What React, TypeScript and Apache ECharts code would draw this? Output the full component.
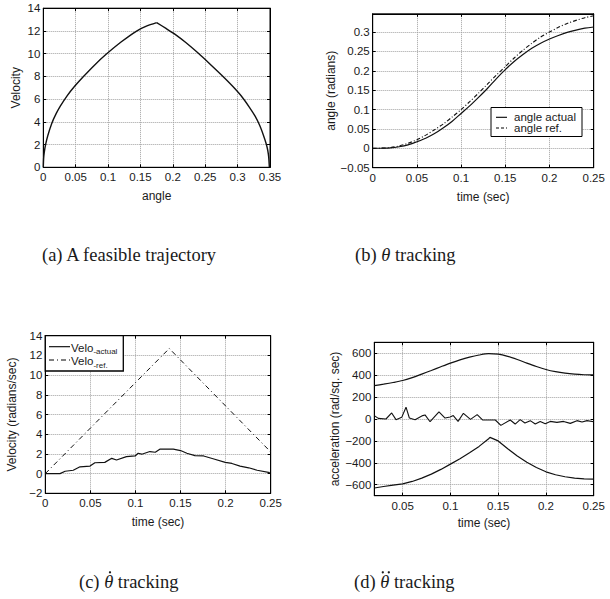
import React, { useEffect, useRef } from 'react';
import * as echarts from 'echarts';

// (a) A feasible trajectory: velocity vs angle (peak at the maximum velocity)
const aAngle = [0, 0.0005, 0.0015, 0.0036, 0.007, 0.0129, 0.02, 0.0265, 0.037, 0.049, 0.062, 0.079, 0.097, 0.12, 0.144, 0.16, 0.175, 0.19, 0.203, 0.22, 0.239, 0.258, 0.2755, 0.292, 0.306, 0.318, 0.327, 0.334, 0.3397, 0.344, 0.3465, 0.348, 0.349];
const aVelocity = [0, 0.76, 1.32, 2.01, 2.8, 3.84, 4.74, 5.4, 6.31, 7.17, 7.99, 8.99, 9.94, 11.02, 11.99, 12.44, 12.73, 12.2, 11.72, 10.98, 10.05, 9.05, 8.1, 7.15, 6.25, 5.3, 4.5, 3.7, 2.85, 2.1, 1.5, 0.9, 0];

// (b) theta tracking
const bTime = [0, 0.01, 0.02, 0.03, 0.04, 0.05, 0.06, 0.07, 0.08, 0.09, 0.1, 0.11, 0.12, 0.13, 0.14, 0.15, 0.16, 0.17, 0.18, 0.19, 0.2, 0.21, 0.22, 0.23, 0.24, 0.25];
const bActual = [0, 0.0003, 0.001, 0.004, 0.009, 0.017, 0.026, 0.038, 0.053, 0.07, 0.09, 0.11, 0.132, 0.155, 0.18, 0.203, 0.224, 0.242, 0.258, 0.271, 0.282, 0.291, 0.299, 0.305, 0.31, 0.313];
const bRef = [0, 0.0005, 0.002, 0.006, 0.013, 0.022, 0.034, 0.048, 0.063, 0.081, 0.1, 0.121, 0.143, 0.166, 0.189, 0.211, 0.233, 0.253, 0.271, 0.287, 0.3, 0.312, 0.322, 0.33, 0.337, 0.342];

// (c) theta-dot tracking
const cRefTime = [0, 0.1375, 0.25];
const cRefVelo = [0, 12.7, 2.2];
const cActTime = [0, 0.0163, 0.022, 0.031, 0.0385, 0.0496, 0.055, 0.066, 0.0737, 0.079, 0.09, 0.0996, 0.103, 0.107, 0.116, 0.122, 0.127, 0.142, 0.15, 0.157, 0.166, 0.1756, 0.187, 0.1996, 0.207, 0.216, 0.2256, 0.235, 0.249];
const cActVelo = [0, 0, 0.24, 0.34, 0.69, 0.76, 1.1, 1.14, 1.55, 1.38, 1.72, 1.79, 2.07, 1.97, 2.24, 2.17, 2.48, 2.48, 2.34, 2.07, 1.83, 1.79, 1.48, 1.14, 1.03, 0.76, 0.59, 0.34, 0.1];

// (d) theta-double-dot tracking
const dUpperTime = [0.0203, 0.03, 0.04, 0.05, 0.06, 0.07, 0.08, 0.09, 0.1, 0.11, 0.12, 0.13, 0.14, 0.15, 0.16, 0.17, 0.18, 0.19, 0.2, 0.21, 0.22, 0.23, 0.24, 0.25];
const dUpperAcc = [305, 318, 333, 351, 378, 410, 443, 477, 510, 540, 565, 584, 596, 592, 572, 543, 510, 479, 452, 432, 418, 409, 404, 402];
const dLowerTime = [0.0203, 0.03, 0.04, 0.05, 0.06, 0.07, 0.08, 0.09, 0.1, 0.11, 0.12, 0.13, 0.14, 0.1414, 0.15, 0.16, 0.17, 0.18, 0.19, 0.2, 0.21, 0.22, 0.23, 0.24, 0.25];
const dLowerAcc = [-630, -616, -604, -592, -570, -540, -503, -460, -412, -362, -308, -250, -180, -168, -200, -272, -338, -395, -443, -482, -509, -527, -539, -546, -549];
const dMidTime = [0.0203, 0.0245, 0.0325, 0.0385, 0.043, 0.049, 0.0535, 0.057, 0.063, 0.071, 0.0734, 0.0787, 0.088, 0.0944, 0.0997, 0.103, 0.108, 0.1136, 0.121, 0.128, 0.1336, 0.147, 0.1528, 0.1626, 0.1678, 0.173, 0.178, 0.1836, 0.1888, 0.194, 0.1993, 0.2045, 0.2115, 0.2185, 0.2255, 0.2325, 0.2378, 0.243, 0.25];
const dMidAcc = [31, 6, 0, 55, -6, 15, 108, 9, -6, 31, 37, -25, 65, 9, 18, 31, -22, 52, -3, 40, -9, -9, -58, -9, -46, -6, -37, -15, -46, -22, -43, -22, -31, -22, -40, -15, -28, -15, -25];

const SANS = '"Liberation Sans", Arial, Helvetica, sans-serif';
const SERIF = '"Liberation Serif", "Times New Roman", serif';

const zip = (xs: number[], ys: number[]) => xs.map((x, i) => [x, ys[i]]);
const fmt = (v: number) => String(parseFloat(Number(v).toFixed(4))).replace('-', '\u2212');

type AxisSpec = {
  min: number; max: number; interval?: number; splitNumber?: number;
  showMin?: boolean; showMax?: boolean; name: string; nameGap: number;
};

function makeAxes(gi: number, xs: AxisSpec, ys: AxisSpec) {
  const labelStyle = { fontFamily: SANS, fontSize: 11.5, color: '#1a1a1a' };
  const split = { show: true, lineStyle: { color: '#a0a0a0', type: 'dotted' as const, width: 1 } };
  const tick = { show: true, inside: true, length: 3, lineStyle: { color: '#000', width: 1 } };
  const line = { show: true, onZero: false, lineStyle: { color: '#000', width: 1 } };
  const base = (s: AxisSpec) => ({
    type: 'value' as const, gridIndex: gi, min: s.min, max: s.max,
    ...(s.interval !== undefined ? { interval: s.interval } : {}),
    ...(s.splitNumber !== undefined ? { splitNumber: s.splitNumber } : {}),
  });
  const xBottom = {
    ...base(xs), position: 'bottom',
    name: xs.name, nameLocation: 'middle', nameGap: xs.nameGap,
    nameTextStyle: { fontFamily: SANS, fontSize: 12, color: '#1a1a1a' },
    axisLine: line, axisTick: tick, splitLine: split,
    axisLabel: { ...labelStyle, margin: 4, formatter: fmt, showMinLabel: xs.showMin !== false, showMaxLabel: xs.showMax !== false },
  };
  const xTop = {
    ...base(xs), position: 'top', axisLine: line, axisTick: tick,
    splitLine: { show: false }, axisLabel: { show: false },
  };
  const yLeft = {
    ...base(ys), position: 'left',
    name: ys.name, nameLocation: 'middle', nameGap: ys.nameGap,
    nameTextStyle: { fontFamily: SANS, fontSize: 12, color: '#1a1a1a' },
    axisLine: line, axisTick: tick, splitLine: split,
    axisLabel: { ...labelStyle, margin: 3, formatter: fmt, showMinLabel: ys.showMin !== false, showMaxLabel: ys.showMax !== false },
  };
  const yRight = {
    ...base(ys), position: 'right', axisLine: line, axisTick: tick,
    splitLine: { show: false }, axisLabel: { show: false },
  };
  return { x: [xBottom, xTop], y: [yLeft, yRight] };
}

export default function App() {
  const ref = useRef<HTMLDivElement>(null);
  useEffect(() => {
    if (!ref.current) return;
    const chart = echarts.init(ref.current, undefined, { renderer: 'svg' });

    const gA = makeAxes(0,
      { min: 0, max: 0.35, interval: 0.05, name: 'angle', nameGap: 23 },
      { min: 0, max: 14, interval: 2, name: 'Velocity', nameGap: 21 });
    const gB = makeAxes(1,
      { min: 0, max: 0.25, interval: 0.05, name: 'time (sec)', nameGap: 23 },
      { min: -0.05, max: 0.347, interval: 0.05, showMax: false, name: 'angle (radians)', nameGap: 28 });
    const gC = makeAxes(2,
      { min: 0, max: 0.25, interval: 0.05, name: 'time (sec)', nameGap: 23 },
      { min: -2, max: 14, interval: 2, name: 'Velocity (radians/sec)', nameGap: 27 });
    const gD = makeAxes(3,
      { min: 0.0203, max: 0.25, splitNumber: 5, showMin: false, name: 'time (sec)', nameGap: 21 },
      { min: -700, max: 700, splitNumber: 7, showMin: false, showMax: false, name: 'acceleration (rad/sq. sec)', nameGap: 32 });

    const gridBase = { show: true, borderColor: '#000', borderWidth: 1, backgroundColor: '#fff', containLabel: false };
    const lineSeries = (xi: number, data: number[][], style: any, smooth: number | boolean = false) => ({
      type: 'line', xAxisIndex: xi, yAxisIndex: xi, data, symbol: 'none', showSymbol: false,
      smooth, lineStyle: { color: '#111', width: 1.2, ...style }, silent: true, z: 3,
    });

    const aPeak = aVelocity.indexOf(Math.max(...aVelocity));
    const aData = zip(aAngle, aVelocity);

    const capStyle = { fontFamily: SERIF, fontSize: 18.5, fill: '#1a1a1a', align: 'left', verticalAlign: 'middle' };
    const richCap = { i: { fontFamily: SERIF, fontSize: 18.5, fontStyle: 'italic', fill: '#1a1a1a' } };
    const subRich = {
      n: { fontFamily: SANS, fontSize: 11.5, fill: '#1a1a1a', lineHeight: 14, verticalAlign: 'bottom' },
      s: { fontFamily: SANS, fontSize: 8, fill: '#1a1a1a', lineHeight: 14, verticalAlign: 'bottom', padding: [0, 0, -2, 0] },
    };

    chart.setOption({
      animation: false,
      backgroundColor: '#fff',
      grid: [
        { ...gridBase, left: 43.3, top: 8.2, width: 226.7, height: 159.1 },
        { ...gridBase, left: 372.7, top: 13.8, width: 221, height: 153.9 },
        { ...gridBase, left: 45.3, top: 335.7, width: 225.4, height: 157.6 },
        { ...gridBase, left: 374.3, top: 342.3, width: 219.4, height: 153.4 },
      ],
      xAxis: [...gA.x, ...gB.x, ...gC.x, ...gD.x],
      yAxis: [...gA.y, ...gB.y, ...gC.y, ...gD.y],
      series: [
        lineSeries(0, aData.slice(0, aPeak + 1), { width: 1.4 }, 0.2),
        lineSeries(0, aData.slice(aPeak), { width: 1.4 }, 0.2),
        lineSeries(2, zip(bTime, bActual), { width: 1.2 }, 0.3),
        lineSeries(2, zip(bTime, bRef), { width: 1.1, type: [4, 2, 1, 2] }, 0.3),
        lineSeries(4, zip(cActTime, cActVelo), { width: 1.2 }),
        lineSeries(4, zip(cRefTime, cRefVelo), { width: 1.0, type: [5, 3, 1, 3] }),
        lineSeries(6, zip(dUpperTime, dUpperAcc), { width: 1.2 }, 0.3),
        lineSeries(6, zip(dLowerTime, dLowerAcc), { width: 1.2 }),
        lineSeries(6, zip(dMidTime, dMidAcc), { width: 1.1 }),
      ],
      graphic: [
        // legend (b)
        { type: 'rect', z: 100, shape: { x: 491, y: 107.5, width: 91, height: 29 }, style: { fill: '#fff', stroke: '#000', lineWidth: 1 } },
        { type: 'line', z: 101, shape: { x1: 496, y1: 117.3, x2: 507, y2: 117.3 }, style: { stroke: '#000', lineWidth: 1.1 } },
        { type: 'text', z: 101, x: 514, y: 117.3, style: { text: 'angle actual', fontFamily: SANS, fontSize: 11.5, fill: '#1a1a1a', verticalAlign: 'middle' } },
        { type: 'line', z: 101, shape: { x1: 496, y1: 128, x2: 507, y2: 128 }, style: { stroke: '#000', lineWidth: 1.1, lineDash: [3, 2] } },
        { type: 'text', z: 101, x: 514, y: 128, style: { text: 'angle ref.', fontFamily: SANS, fontSize: 11.5, fill: '#1a1a1a', verticalAlign: 'middle' } },
        // legend (c)
        { type: 'rect', z: 100, shape: { x: 45.3, y: 335.7, width: 78, height: 35.3 }, style: { fill: '#fff', stroke: '#000', lineWidth: 1.3 } },
        { type: 'line', z: 101, shape: { x1: 49, y1: 346.7, x2: 70, y2: 346.7 }, style: { stroke: '#000', lineWidth: 1.1 } },
        { type: 'text', z: 101, x: 71, y: 346.7, style: { text: '{n|Velo}{s|-actual}', verticalAlign: 'middle', fill: '#1a1a1a', rich: subRich } },
        { type: 'line', z: 101, shape: { x1: 49, y1: 360, x2: 70, y2: 360 }, style: { stroke: '#000', lineWidth: 1.0, lineDash: [5, 3, 1, 3] } },
        { type: 'text', z: 101, x: 71, y: 360, style: { text: '{n|Velo}{s|-ref.}', verticalAlign: 'middle', fill: '#1a1a1a', rich: subRich } },
        // captions
        { type: 'text', x: 42, y: 255, style: { ...capStyle, text: '(a) A feasible trajectory' } },
        { type: 'text', x: 355, y: 255, style: { ...capStyle, text: '(b) {i|\u03B8} tracking', rich: richCap } },
        { type: 'text', x: 79, y: 582, style: { ...capStyle, text: '(c) {i|\u03B8} tracking', rich: richCap } },
        { type: 'circle', shape: { cx: 110, cy: 572.3, r: 1.15 }, style: { fill: '#1a1a1a' } },
        { type: 'text', x: 354, y: 582, style: { ...capStyle, text: '(d) {i|\u03B8} tracking', rich: richCap } },
        { type: 'circle', shape: { cx: 382.8, cy: 572.3, r: 1.15 }, style: { fill: '#1a1a1a' } },
        { type: 'circle', shape: { cx: 388.8, cy: 572.3, r: 1.15 }, style: { fill: '#1a1a1a' } },
      ],
    });
    return () => chart.dispose();
  }, []);
  return <div ref={ref} style={{ position: 'fixed', left: 0, top: 0, width: 610, height: 599, background: '#fff' }} />;
}
